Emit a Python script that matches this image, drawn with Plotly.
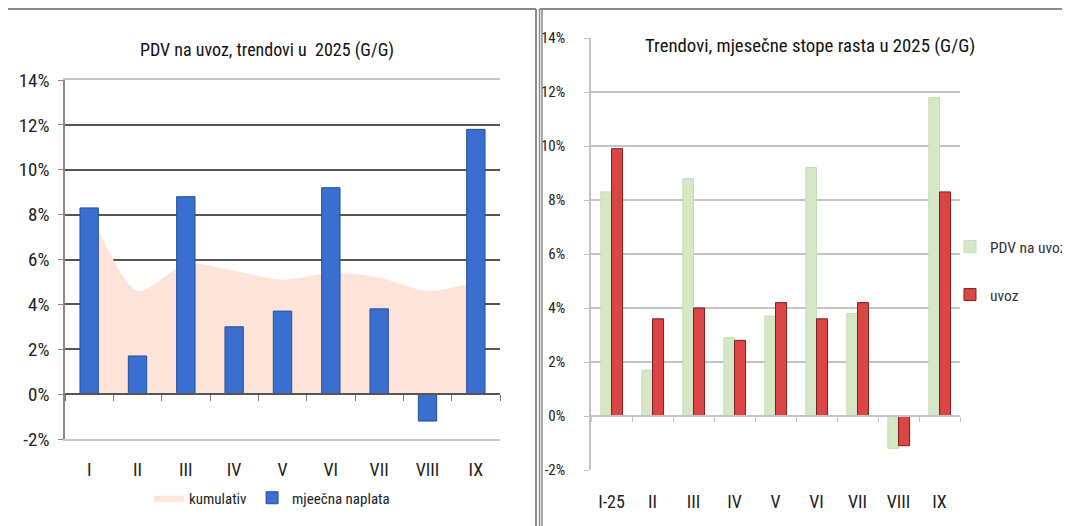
import plotly.graph_objects as go

# ---------------- data ----------------
months_left = ["I", "II", "III", "IV", "V", "VI", "VII", "VIII", "IX"]
kumulativ = [8.3, 4.6, 5.8, 5.5, 5.1, 5.4, 5.2, 4.6, 5.0]
mjesecna_naplata = [8.3, 1.7, 8.8, 3.0, 3.7, 9.2, 3.8, -1.2, 11.8]

months_right = ["I-25", "II", "III", "IV", "V", "VI", "VII", "VIII", "IX"]
pdv_na_uvoz = [8.3, 1.7, 8.8, 2.9, 3.7, 9.2, 3.8, -1.2, 11.8]
uvoz = [9.9, 3.6, 4.0, 2.8, 4.2, 3.6, 4.2, -1.1, 8.3]

y_ticks = [-2, 0, 2, 4, 6, 8, 10, 12, 14]
y_ticktext = [f"{v}%" for v in y_ticks]

title_left = "PDV na uvoz, trendovi u  2025 (G/G)"
title_right = "Trendovi, mjesečne stope rasta u 2025 (G/G)"

FONT = "Roboto Condensed, Liberation Sans Narrow, Roboto, sans-serif"

# the page body has an 8px margin; size the figure so it fills the window
OX, OY = 8, 8
FW, FH = 1070 - OX, 526 - OY


def px_x(v):
    return max(0.0, (v - OX) / FW)


def px_y(v):
    return min(1.0, 1 - (v - OY) / FH)


fig = go.Figure()

# left chart: cumulative area (base axes, below bars)
fig.add_trace(go.Scatter(
    x=months_left, y=kumulativ, name="kumulativ", mode="lines",
    line=dict(shape="spline", width=0, color="#fde3d8", smoothing=0.8),
    fill="tozeroy", fillcolor="#fde3d8",
    xaxis="x", yaxis="y", legend="legend",
))
# left chart: monthly bars (overlay axis, above area)
fig.add_trace(go.Bar(
    x=months_left, y=mjesecna_naplata, name="mjeečna naplata",
    marker=dict(color="#3a6ecf", line=dict(color="#24509e", width=1)),
    width=0.38, xaxis="x3", yaxis="y", legend="legend",
))

# right chart
fig.add_trace(go.Bar(
    x=months_right, y=pdv_na_uvoz, name="PDV na uvoz",
    marker=dict(color="#d6e7c6", line=dict(color="#c6dcb2", width=1)),
    width=0.26, offset=-0.26, xaxis="x2", yaxis="y2", legend="legend2",
))
fig.add_trace(go.Bar(
    x=months_right, y=uvoz, name="uvoz",
    marker=dict(color="#dc4545", line=dict(color="#7a2020", width=1)),
    width=0.27, offset=0.0, xaxis="x4", yaxis="y2", legend="legend3",
))

left_dom_x = [px_x(65), px_x(500)]
left_dom_y = [px_y(439), px_y(80)]
right_dom_x = [px_x(591), px_x(960)]
right_dom_y = [px_y(470), px_y(38)]

cat_font = dict(family=FONT, size=18, color="#222")

fig.update_layout(
    width=FW, height=FH,
    margin=dict(l=0, r=0, t=0, b=0, autoexpand=False),
    paper_bgcolor="white", plot_bgcolor="white",
    barmode="overlay",
    font=dict(family=FONT, size=15, color="#222"),
    xaxis=dict(domain=left_dom_x, anchor="y", type="category", automargin=False,
               categoryorder="array", categoryarray=months_left,
               range=[-0.5, 8.5], showgrid=False, zeroline=False,
               showline=True, mirror=True, linecolor="#c8c8c8", linewidth=1.5,
               ticks="", ticklabelstandoff=14, tickfont=cat_font),
    yaxis=dict(domain=left_dom_y, anchor="x", range=[-2, 14], automargin=False,
               tickvals=y_ticks, ticktext=y_ticktext,
               tickfont=dict(family=FONT, size=19, color="#222"),
               showgrid=True, gridcolor="#555", gridwidth=1.5, zeroline=False,
               showline=True, linecolor="#888", linewidth=1.5,
               ticks="outside", ticklen=5, tickcolor="#888",
               ticklabelstandoff=5),
    xaxis3=dict(domain=left_dom_x, overlaying="x", anchor="free", automargin=False,
                position=px_y(394), type="category",
                categoryorder="array", categoryarray=months_left,
                range=[-0.5, 8.5], showgrid=False, zeroline=False,
                showline=True, linecolor="#555", linewidth=1.5,
                ticks="outside", tickson="boundaries", ticklen=6,
                tickcolor="#777", showticklabels=False),
    xaxis2=dict(domain=right_dom_x, anchor="y2", type="category", automargin=False,
                categoryorder="array", categoryarray=months_right,
                range=[-0.5, 8.5], showgrid=False, zeroline=False,
                showline=False, ticks="", ticklabelstandoff=19, tickfont=cat_font),
    yaxis2=dict(domain=right_dom_y, anchor="x2", range=[-2, 14], automargin=False,
                tickvals=y_ticks, ticktext=y_ticktext,
                tickfont=dict(family=FONT, size=15, color="#222"),
                showgrid=True, gridcolor="#c4c4c4", gridwidth=1.5, zeroline=False,
                showline=True, linecolor="#c4c4c4", linewidth=1.5,
                ticks="outside", ticklen=5, tickcolor="#c4c4c4",
                ticklabelstandoff=16),
    xaxis4=dict(domain=right_dom_x, overlaying="x2", anchor="free", automargin=False,
                position=px_y(416), type="category",
                categoryorder="array", categoryarray=months_right,
                range=[-0.5, 8.5], showgrid=False, zeroline=False,
                showline=True, linecolor="#c4c4c4", linewidth=1.5,
                ticks="outside", tickson="boundaries", ticklen=5,
                tickcolor="#c4c4c4", showticklabels=False),
    legend=dict(orientation="h", x=px_x(272), y=px_y(498),
                xanchor="center", yanchor="middle",
                font=dict(family=FONT, size=15, color="#222"),
                itemwidth=30, bgcolor="rgba(0,0,0,0)"),
    legend2=dict(x=px_x(950), y=px_y(247), xanchor="left", yanchor="middle",
                 font=dict(family=FONT, size=15.5, color="#333"),
                 itemwidth=30, bgcolor="rgba(0,0,0,0)"),
    legend3=dict(x=px_x(950), y=px_y(295), xanchor="left", yanchor="middle",
                 font=dict(family=FONT, size=15.5, color="#333"),
                 itemwidth=30, bgcolor="rgba(0,0,0,0)"),
    annotations=[
        dict(text=title_left, x=px_x(267), y=px_y(50), xref="paper", yref="paper",
             showarrow=False, xanchor="center", yanchor="middle",
             font=dict(family=FONT, size=18, color="#111")),
        dict(text=title_right, x=px_x(810), y=px_y(46), xref="paper", yref="paper",
             showarrow=False, xanchor="center", yanchor="middle",
             font=dict(family=FONT, size=18.8, color="#111")),
    ],
    shapes=[
        dict(type="line", xref="paper", yref="paper", x0=px_x(5), x1=px_x(536),
             y0=px_y(9), y1=px_y(9), line=dict(color="#8a8a8a", width=2)),
        dict(type="line", xref="paper", yref="paper", x0=px_x(536), x1=px_x(536),
             y0=px_y(9), y1=0, line=dict(color="#8a8a8a", width=2)),
        dict(type="line", xref="paper", yref="paper", x0=px_x(539.5), x1=px_x(539.5),
             y0=px_y(9), y1=0, line=dict(color="#8a8a8a", width=1.5)),
        dict(type="line", xref="paper", yref="paper", x0=px_x(542), x1=px_x(542),
             y0=px_y(9), y1=0, line=dict(color="#8a8a8a", width=1.5)),
        dict(type="line", xref="paper", yref="paper", x0=px_x(539.5), x1=1,
             y0=px_y(9), y1=px_y(9), line=dict(color="#8a8a8a", width=2)),
    ],
)

fig.write_html("out.html")
